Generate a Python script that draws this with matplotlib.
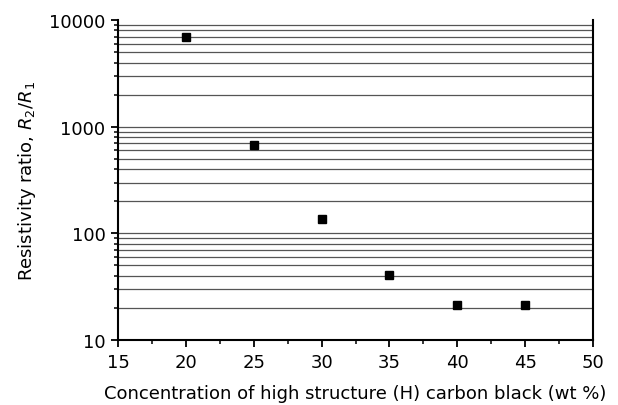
import matplotlib
matplotlib.use("Agg")
import matplotlib.pyplot as plt
import numpy as np
from matplotlib.ticker import LogLocator, MultipleLocator, NullFormatter

plt.rcParams['font.family'] = ['DejaVu Sans']
plt.rcParams['mathtext.fontset'] = 'dejavusans'

conc = [20, 25, 30, 35, 40, 45]
ratio = [6900, 680, 137, 41, 21.5, 21.5]
xticks = [15, 20, 25, 30, 35, 40, 45, 50]
yticks = [10, 100, 1000, 10000]
ytick_labels = ['10', '100', '1000', '10000']

fig = plt.figure(figsize=(6.18, 4.06), dpi=100)
ax = fig.add_axes([0.191, 0.160, 0.7685, 0.788])

ax.set_yscale('log')
ax.set_xlim(15, 50)
ax.set_ylim(10, 10000)

# gridlines at minor values plus 100, 1000
grid_vals = []
for dec in [10, 100, 1000]:
    for m in range(2, 10):
        grid_vals.append(dec * m)
grid_vals += [100, 1000]
for g in grid_vals:
    ax.axhline(g, color='#555555', lw=0.9, zorder=1)

ax.plot(conc, ratio, 's', color='black', ms=6, zorder=3, clip_on=False)

ax.set_xticks(xticks)
ax.set_xticklabels([str(t) for t in xticks])
ax.xaxis.set_minor_locator(MultipleLocator(2.5))
ax.set_yticks(yticks)
ax.set_yticklabels(ytick_labels)
ax.yaxis.set_minor_locator(LogLocator(base=10, subs=np.arange(2, 10)))
ax.yaxis.set_minor_formatter(NullFormatter())

ax.tick_params(axis='both', which='major', direction='out', length=5, width=1.3,
               labelsize=13, colors='black', pad=4)
ax.tick_params(axis='both', which='minor', direction='out', length=3, width=1.1)

ax.spines['top'].set_visible(False)
for s in ['left', 'bottom', 'right']:
    ax.spines[s].set_linewidth(1.5)
ax.tick_params(axis='y', which='both', right=False)

ax.set_xlabel('Concentration of high structure (H) carbon black (wt %)', fontsize=13, labelpad=10)
ax.set_ylabel(r'Resistivity ratio, $\mathit{R}_2/\mathit{R}_1$', fontsize=13, labelpad=8)

fig.savefig('out.png', dpi=100)
